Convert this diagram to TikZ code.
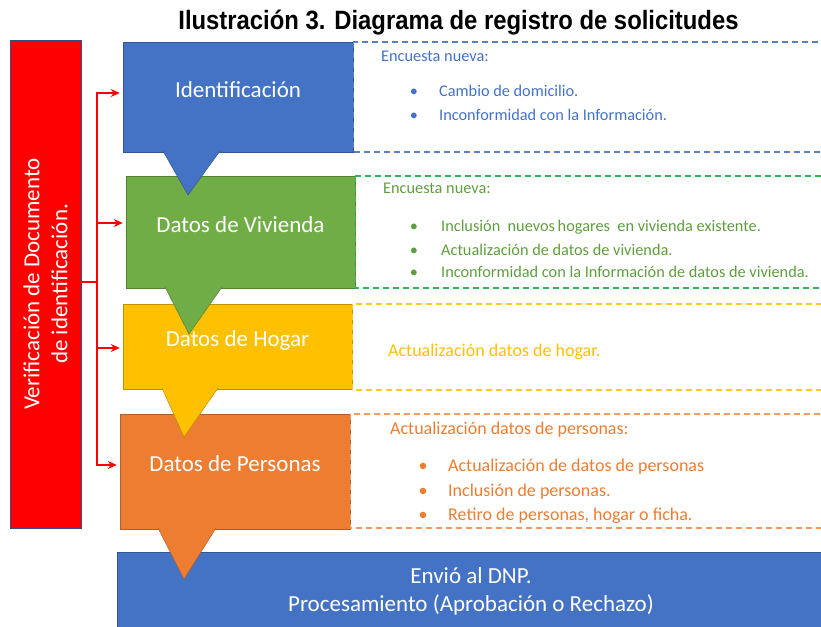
\documentclass[tikz,border=0pt]{standalone}
\usepackage{fontspec}
\setmainfont{Carlito}
\newfontfamily\titulo[FakeStretch=0.9]{Liberation Sans}
\usetikzlibrary{arrows.meta}
\definecolor{azul}{HTML}{4472C4}
\definecolor{verde}{HTML}{70AD47}
\definecolor{amarillo}{HTML}{FFC000}
\definecolor{naranja}{HTML}{ED7D31}
\definecolor{rojo}{HTML}{FF0000}
\definecolor{azuldash}{HTML}{5B7FC7}
\definecolor{verdedash}{HTML}{33B65A}
\definecolor{amarillodash}{HTML}{FFC829}
\definecolor{naranjadash}{HTML}{F29A60}
\definecolor{verdetexto}{HTML}{5E9E3E}
\tikzset{
  caja/.style={draw=#1!75!black, fill=#1, line width=0.5pt, text=white, inner sep=0pt,
    font=\fontsize{23}{28}\selectfont, text height=14pt, text depth=14pt},
  punta/.style={fill=#1, draw=#1!75!black, line width=0.5pt, line join=round},
  marco/.style={draw=#1, dash pattern=on 6pt off 4pt, line width=1.5pt},
  flecha/.style={draw=rojo, line width=1.2pt, -{Stealth[length=9pt,width=8pt]}},
  info/.style={anchor=base west, inner sep=0pt, text=#1, font=\fontsize{16.3}{19}\selectfont},
  infog/.style={anchor=base west, inner sep=0pt, text=#1, font=\fontsize{18}{21}\selectfont},
}
\begin{document}
\begin{tikzpicture}[x=1pt, y=-1pt]
  \useasboundingbox (0,0) rectangle (821,626);
  \node[font=\titulo\bfseries\fontsize{26.5}{30}\selectfont] (titulo) at (458.5,23)
    {Ilustración 3. Diagrama de registro de solicitudes};
  % caja lateral
  \node[caja=rojo, draw=azul!70!black, minimum width=488pt, minimum height=71pt,
    rotate=90, align=center, font=\fontsize{23}{28}\selectfont, text height=, text depth=]
    (verif) at (45.5,284) {Verificación de Documento\\de identificación.};
  % etapas
  \node[caja=azul, minimum width=230pt, minimum height=110pt] (iden) at (238,97) {Identificación};
  \node[caja=verde, minimum width=229pt, minimum height=112pt] (viv) at (240.5,232) {Datos de Vivienda};
  \node[caja=amarillo, minimum width=229pt, minimum height=85pt] (hogar) at (237.5,346.5) {Datos de Hogar};
  \node[caja=naranja, minimum width=230pt, minimum height=115pt] (pers) at (235,471.5) {Datos de Personas};
  \node[caja=azul, minimum width=708pt, minimum height=78pt, align=center,
    font=\fontsize{23}{28}\selectfont, text height=, text depth=] (dnp) at (471,591)
    {Envió al DNP.\\Procesamiento (Aprobación o Rechazo)};
  % puntas
  \fill[punta=azul] (163,151) -- (188,195) -- (220,151);
  \fill[punta=verde] (165,287) -- (189,334) -- (222,287);
  \fill[punta=amarillo] (162,388) -- (184,437) -- (218,388);
  \fill[punta=naranja] (158,528) -- (184,579) -- (216,528);
  % marcos punteados
  \draw[marco=azuldash] ([yshift=-0.5pt]iden.north east) rectangle (826,152);
  \draw[marco=verdedash] (viv.north east) rectangle (826,288);
  \draw[marco=amarillodash] (hogar.north east) rectangle (826,390);
  \draw[marco=naranjadash] (pers.north east) rectangle (826,528);
  % conectores
  \coordinate (bus) at (97,282);
  \draw[rojo, line width=1.2pt] (verif.south |- bus) -- (bus);
  \foreach \n/\dy in {iden/4, viv/9, hogar/-1.5, pers/6.5}
    \draw[flecha] (bus) |- ([xshift=-3pt, yshift=\dy pt]\n.west);
  % textos
  \node[info=azul] (t1) at (381,61) {Encuesta nueva:};
  \foreach \y/\t in {96/Cambio de domicilio., 120/Inconformidad con la Información.} {
    \node[info=azul, anchor=base] at (414,\y) {\textbullet};
    \node[info=azul] at (439,\y) {\t};
  }
  \node[info=verdetexto] (t2) at (383,193) {Encuesta nueva:};
  \foreach \y/\t in {231/Inclusión\ \ nuevos\,hogares\ \ en vivienda existente., 255/Actualización de datos de vivienda., 277/Inconformidad con la Información de datos de vivienda.} {
    \node[info=verdetexto, anchor=base] at (414,\y) {\textbullet};
    \node[info=verdetexto] at (441,\y) {\t};
  }
  \node[infog=amarillo] (t3) at (388,356) {Actualización datos de hogar.};
  \node[infog=naranja] (t4) at (390,434) {Actualización datos de personas:};
  \foreach \y/\t in {471/Actualización de datos de personas, 496/Inclusión de personas., 520/{Retiro de personas, hogar o ficha.}} {
    \node[infog=naranja, anchor=base] at (423,\y) {\textbullet};
    \node[infog=naranja] at (448,\y) {\t};
  }
\end{tikzpicture}
\end{document}
